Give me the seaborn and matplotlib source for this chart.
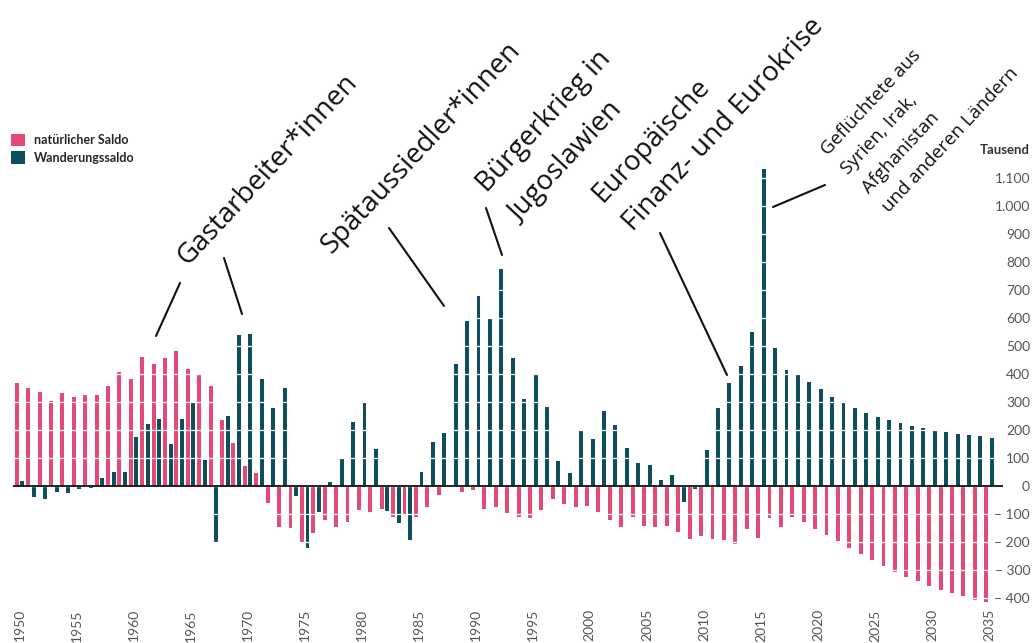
import numpy as np
import pandas as pd
import matplotlib
matplotlib.use('Agg')
from matplotlib import pyplot as plt
from matplotlib.lines import Line2D
import seaborn as sns


# Bevölkerungssaldo in Tausend, 1950-2035
years = list(range(1950, 2036))
natural = [367, 351, 337, 304, 333, 317, 324, 324, 356, 406,
           383, 462, 436, 458, 482, 417, 401, 356, 235, 152,
           71, 45, -62, -148, -151, -202, -167, -121, -148, -127,
           -86, -93, -82, -112, -104, -112, -76, -31, -5, -21,
           -15, -82, -76, -96, -111, -116, -86, -45, -65, -76,
           -70, -92, -121, -148, -112, -142, -146, -142, -163, -189,
           -179, -189, -194, -207, -153, -186, -116, -145, -112, -130,
           -152, -174, -195, -220, -243, -263, -285, -306, -324, -339,
           -356, -370, -383, -394, -407, -415]
migration = [17, -38, -48, -21, -25, -9, -8, 27, 51, 49,
             176, 221, 239, 149, 239, 299, 92, -202, 249, 539,
             544, 381, 279, 351, -35, -223, -92, 15, 96, 229,
             295, 133, -88, -132, -194, 50, 157, 188, 437, 589,
             677, 600, 774, 458, 310, 396, 281, 90, 45, 198,
             167, 269, 217, 137, 81, 75, 20, 40, -56, -10,
             128, 277, 367, 427, 549, 1132, 494, 413, 396, 373,
             346, 319, 296, 280, 261, 245, 234, 224, 214, 206,
             196, 192, 187, 182, 177, 171]
series_names = ['natürlicher Saldo', 'Wanderungssaldo']
colors = ['#e34a77', '#0e4d5b']
y_ticks = list(range(-400, 1101, 100))

W, H = 1032, 643


def fig_xy(x, y):
    # pixel position (from top left) -> figure fraction
    return x / W, 1 - y / H


def tick_label(v):
    s = f'{abs(v):,}'.replace(',', '.')
    if v < 0:
        return '\u2013 ' + s
    return s


def build_frame():
    n = len(years)
    return pd.DataFrame({
        'Jahr': years * 2,
        'Wert': natural + migration,
        'Reihe': [series_names[0]] * n + [series_names[1]] * n,
    })


def note(fig, lines, x, y, size=20, rot=47, step=44):
    # x, y = baseline start of the first line; next lines step down-right
    a = np.radians(rot)
    for i, line in enumerate(lines):
        px = x + i * step * np.sin(a)
        py = y + i * step * np.cos(a)
        fig.text(*fig_xy(px, py), line, rotation=rot,
                 rotation_mode='anchor', ha='left', va='baseline',
                 fontsize=size, color='#111',
                 family=['Open Sans', 'DejaVu Sans'], fontweight='normal')


def connector(fig, x0, y0, x1, y1):
    fig.add_artist(Line2D([x0 / W, x1 / W], [1 - y0 / H, 1 - y1 / H],
                          color='#111', lw=1.5))


def plot_chart(df):
    sns.set_theme(style='white')
    plt.rcParams['font.family'] = ['Lato', 'DejaVu Sans']

    fig = plt.figure(figsize=(W / 100, H / 100), dpi=100)
    ax = fig.add_axes([12.7 / W, 1 - 606.4 / H,
                       (1003 - 12.7) / W, (606.4 - 164) / H])

    sns.barplot(data=df, x='Jahr', y='Wert', hue='Reihe',
                hue_order=series_names, palette=colors, saturation=1,
                width=0.98, gap=0.3, errorbar=None, linewidth=0, ax=ax)

    ax.set_xlim(-0.6, len(years) + 0.23)
    ax.set_ylim(-430, 1150)

    # white gridlines cut through the bars
    ax.grid(axis='y', color='white', linewidth=0.9)
    ax.grid(axis='x', visible=False)
    ax.set_axisbelow(False)
    ax.axhline(0, color='#111', lw=1.3, zorder=3)
    for s in ax.spines.values():
        s.set_visible(False)

    ax.set_xlabel('')
    ax.set_ylabel('')
    ax.set_xticks(range(0, len(years), 5))
    ax.set_xticklabels([str(y) for y in years[::5]], rotation=90)
    ax.tick_params(axis='x', length=0, pad=2, labelsize=10,
                   labelcolor='#555')

    ax.yaxis.tick_right()
    ax.set_yticks(y_ticks)
    ax.set_yticklabels([tick_label(v) for v in y_ticks])
    ax.tick_params(axis='y', length=0, pad=19.5, labelsize=10,
                   labelcolor='#555')
    for lab in ax.get_yticklabels():
        lab.set_horizontalalignment('right')

    fig.text(*fig_xy(1030, 150), 'Tausend', ha='right', va='center',
             fontsize=9.5, fontweight='bold', color='#333')

    ax.legend(title=None, loc='upper left', bbox_to_anchor=fig_xy(11, 134),
              bbox_transform=fig.transFigure, frameon=False,
              prop={'weight': 'bold', 'size': 9}, handlelength=1.15,
              handleheight=1.15, handletextpad=0.7, labelspacing=0.4,
              borderaxespad=0, borderpad=0)

    # annotations
    note(fig, ['Gastarbeiter*innen'], 187, 266)
    connector(fig, 180, 283, 156, 336)
    connector(fig, 224, 258, 242, 314)

    note(fig, ['Spätaussiedler*innen'], 332, 254)
    connector(fig, 389, 228, 444, 306)

    note(fig, ['Bürgerkrieg in', 'Jugoslawien'], 487, 193, step=44)
    connector(fig, 486, 208, 502, 255)

    note(fig, ['Europäische', 'Finanz- und Eurokrise'], 602, 203, step=43)
    connector(fig, 660, 233, 727, 375)

    note(fig, ['Geflüchtete aus', 'Syrien, Irak,', 'Afghanistan',
               'und anderen Ländern'], 828, 156, size=13.5, step=28)
    connector(fig, 773, 207, 825, 185)

    fig.savefig('out.png', dpi=100)


def main():
    df = build_frame()
    plot_chart(df)


if __name__ == "__main__":
    main()
